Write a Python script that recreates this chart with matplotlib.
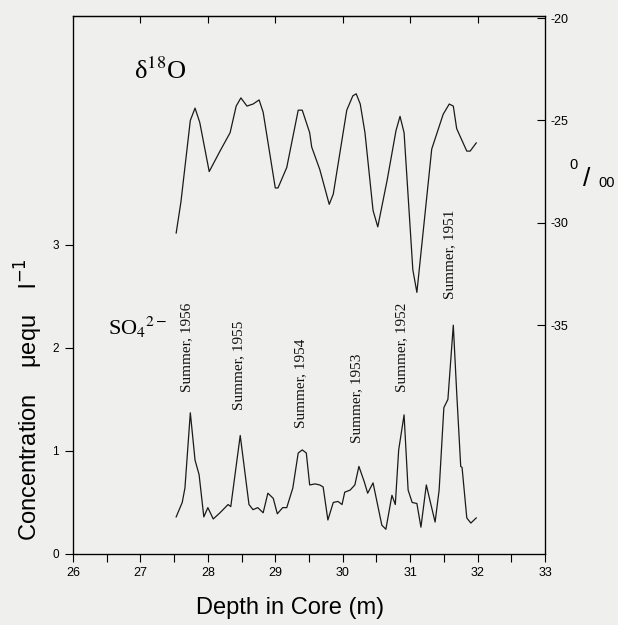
import numpy as np
import matplotlib
matplotlib.use("Agg")
import matplotlib.pyplot as plt

plt.rcParams['font.family'] = ['Liberation Sans', 'DejaVu Sans']
plt.rcParams['axes.unicode_minus'] = False

# delta 18O profile (per mil) against depth (m)
d18o_depth = [27.53, 27.60, 27.74, 27.81, 27.88, 28.02, 28.18, 28.33, 28.42, 28.49,
              28.58, 28.67, 28.76, 28.82, 29.00, 29.04, 29.17, 29.34, 29.40, 29.51,
              29.54, 29.66, 29.80, 29.86, 30.06, 30.15, 30.20, 30.26, 30.33, 30.45,
              30.52, 30.66, 30.79, 30.85, 30.91, 31.04, 31.10, 31.32, 31.49, 31.58,
              31.64, 31.69, 31.84, 31.89, 31.98]
d18o_vals = [-30.5, -29.0, -25.0, -24.4, -25.1, -27.5, -26.5, -25.6, -24.3, -23.9,
             -24.3, -24.2, -24.0, -24.6, -28.3, -28.3, -27.3, -24.5, -24.5, -25.6,
             -26.3, -27.4, -29.1, -28.6, -24.5, -23.8, -23.7, -24.2, -25.6, -29.4,
             -30.2, -27.9, -25.5, -24.8, -25.6, -32.3, -33.4, -26.4, -24.7, -24.2,
             -24.3, -25.4, -26.5, -26.5, -26.1]

# SO4 2- concentration (uequ/l) against depth (m)
so4_depth = [27.53, 27.62, 27.66, 27.74, 27.81, 27.87, 27.94, 28.00, 28.08, 28.18,
             28.30, 28.34, 28.48, 28.61, 28.67, 28.74, 28.82, 28.89, 28.97, 29.03,
             29.11, 29.17, 29.26, 29.34, 29.40, 29.46, 29.51, 29.59, 29.66, 29.71,
             29.78, 29.86, 29.93, 29.99, 30.03, 30.11, 30.18, 30.24, 30.32, 30.37,
             30.45, 30.58, 30.64, 30.73, 30.78, 30.83, 30.91, 30.97, 31.03, 31.10,
             31.16, 31.24, 31.29, 31.37, 31.43, 31.50, 31.56, 31.64, 31.69, 31.75,
             31.77, 31.84, 31.90, 31.98]
so4_vals = [0.36, 0.50, 0.64, 1.37, 0.91, 0.77, 0.36, 0.45, 0.34, 0.40,
            0.48, 0.46, 1.15, 0.48, 0.43, 0.45, 0.40, 0.59, 0.54, 0.39,
            0.45, 0.45, 0.64, 0.98, 1.01, 0.98, 0.67, 0.68, 0.67, 0.65,
            0.33, 0.50, 0.51, 0.48, 0.60, 0.62, 0.67, 0.85, 0.70, 0.59,
            0.69, 0.28, 0.24, 0.57, 0.48, 1.01, 1.35, 0.62, 0.50, 0.49,
            0.26, 0.67, 0.53, 0.31, 0.62, 1.42, 1.50, 2.22, 1.57, 0.85,
            0.84, 0.35, 0.30, 0.35]

# summer markers: label, depth, bottom of text (concentration units)
summer_labels = ['Summer, 1956', 'Summer, 1955', 'Summer, 1954',
                 'Summer, 1953', 'Summer, 1952', 'Summer, 1951']
summer_depth = [27.68, 28.45, 29.37, 30.21, 30.88, 31.59]
summer_base = [1.57, 1.40, 1.22, 1.08, 1.57, 2.47]

bg = '#efefed'
fig = plt.figure(figsize=(6.18, 6.25), dpi=100, facecolor=bg)
ax = fig.add_axes([73/618, 1 - 554/625, 472/618, 538/625])
ax.set_facecolor(bg)

ax.plot(so4_depth, so4_vals, color='#1a1a1a', lw=0.9)
ax.set_xlim(26, 33)
ax.set_ylim(0, 5.22)
ax.set_xticks(range(26, 34))
ax.set_xticks(np.arange(26.5, 33, 1.0), minor=True)
ax.set_yticks([0, 1, 2, 3])
ax.tick_params(axis='x', which='both', direction='out', length=6, width=0.8,
               labelsize=9, pad=3)
ax.tick_params(axis='y', direction='out', length=6, width=0.8, labelsize=8.5, pad=4)
for s in ax.spines.values():
    s.set_linewidth(0.9)

top = ax.secondary_xaxis('top')
top.set_xticks(range(27, 33))
top.xaxis.set_ticklabels([])
top.tick_params(direction='in', length=5, width=0.8)

ax2 = ax.twinx()
ax2.plot(d18o_depth, d18o_vals, color='#1a1a1a', lw=0.9)
ax2.set_ylim(-46.18, -19.9)
ax2.set_yticks([-20, -25, -30, -35])
ax2.tick_params(axis='y', direction='in', length=6, width=0.8, labelsize=9, pad=4)

for lab, xd, yb in zip(summer_labels, summer_depth, summer_base):
    ax.text(xd, yb, lab, rotation=90, ha='center', va='bottom',
            family='Liberation Serif', fontsize=11, color='#111111')

fig.text(134/618, 1 - 79/625, '\u03b4$^{18}$O', family='Liberation Serif',
         math_fontfamily='stix', fontsize=19, ha='left', va='baseline')
fig.text(108/618, 1 - 335/625, r'SO${}_4{}^{2-}$', family='Liberation Serif',
         math_fontfamily='stix', fontsize=16, ha='left', va='baseline')

# per mil label
fig.text(574/618, 1 - 165/625, '0', fontsize=10.5, ha='center', va='center')
fig.text(587/618, 1 - 179/625, '/', fontsize=19, ha='center', va='center')
fig.text(607/618, 1 - 183/625, '00', fontsize=10.5, ha='center', va='center')

fig.text(29/618, 1 - 400/625, 'Concentration    \u03bcequ    l$^{-1}$', rotation=90,
         fontsize=17, ha='center', va='center', math_fontfamily='dejavusans')
fig.text(290/618, 1 - 608/625, 'Depth in Core (m)', fontsize=17,
         ha='center', va='center')

fig.savefig('out.png', dpi=100, facecolor=bg)
